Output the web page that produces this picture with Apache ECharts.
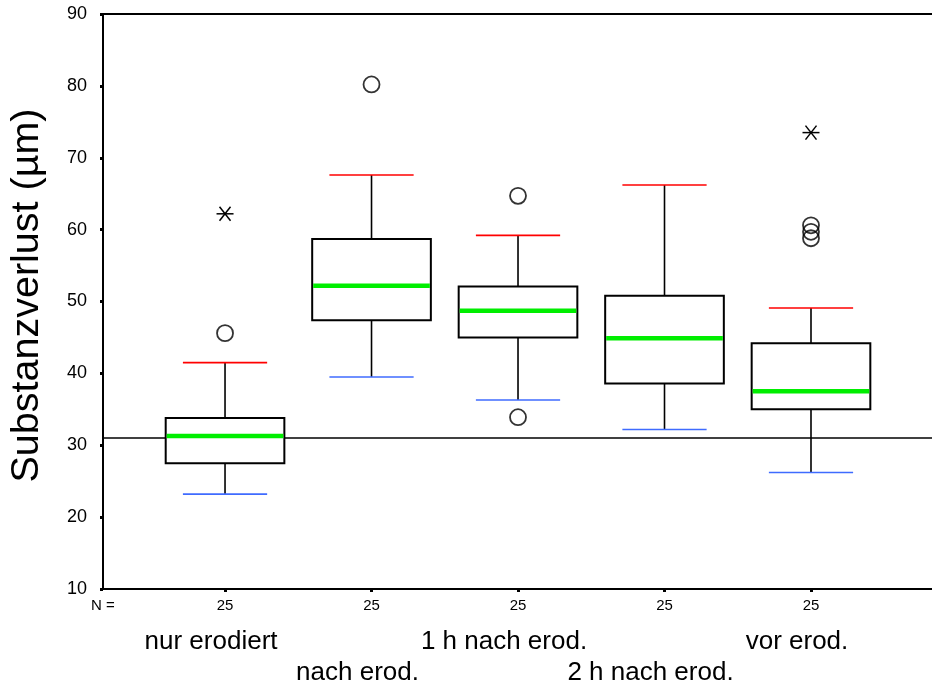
<!DOCTYPE html>
<html>
<head>
<meta charset="utf-8">
<script src="https://cdn.jsdelivr.net/npm/echarts@6/dist/echarts.min.js"></script>
<style>
html,body{margin:0;padding:0;background:#fff;}
#chart{width:932px;height:698px;}
</style>
</head>
<body>
<div id="chart"></div>
<script>
// ---- data ----
var categories = ['nur erodiert', 'nach erod.', '1 h nach erod.', '2 h nach erod.', 'vor erod.'];
var nValues = [25, 25, 25, 25, 25];
var whiskerLow = [23.2, 39.5, 36.3, 32.2, 26.2];
var q1 = [27.5, 47.4, 45.0, 38.6, 35.0];
var median = [31.3, 52.2, 48.7, 44.9, 37.5];
var q3 = [33.8, 58.7, 52.1, 50.8, 44.2];
var whiskerHigh = [41.5, 67.6, 59.2, 66.2, 49.1];
var outliers = [[0, 45.6], [1, 80.2], [2, 64.7], [2, 33.9], [4, 60.6], [4, 59.7], [4, 58.8]];
var extremes = [[0, 62.2], [4, 73.5]];
var referenceValue = 31.1;
var yTicks = [10, 20, 30, 40, 50, 60, 70, 80, 90];

// ---- layout constants ----
var X_MIN = -0.833, X_MAX = 4.826;
var BOX_W = 0.81, CAP_W = 0.575;
var FONT = "'Liberation Sans', Arial, Helvetica, sans-serif";

var boxData = categories.map(function (c, i) {
  return [i, whiskerLow[i], q1[i], median[i], q3[i], whiskerHigh[i]];
});
var catIdx = categories.map(function (c, i) { return i; });
var evenIdx = catIdx.filter(function (i) { return i % 2 === 0; });
var oddIdx = catIdx.filter(function (i) { return i % 2 === 1; });

function nameAxis(values, margin) {
  return {
    type: 'value', min: X_MIN, max: X_MAX, position: 'bottom',
    axisLine: {show: false},
    axisTick: {show: false},
    axisLabel: {
      show: true, customValues: values, margin: margin,
      showMinLabel: true, showMaxLabel: true, hideOverlap: false,
      color: '#000', fontFamily: FONT,
      formatter: function (v) { return '{c|' + categories[Math.round(v)] + '}'; },
      rich: {
        c: {fontSize: 26, lineHeight: 31, align: 'center', padding: [0, 28, 0, 0], color: '#000', fontFamily: FONT}
      }
    },
    splitLine: {show: false}
  };
}

var chart = echarts.init(document.getElementById('chart'), null, {renderer: 'canvas'});

var option = {
  animation: false,
  backgroundColor: '#ffffff',
  textStyle: {fontFamily: FONT, color: '#000'},
  grid: {left: 103, right: 0, top: 14, bottom: 109, containLabel: false, outerBoundsMode: 'none'},
  xAxis: [
    {
      type: 'value', min: X_MIN, max: X_MAX, position: 'bottom',
      axisLine: {show: true, onZero: false, lineStyle: {color: '#000', width: 2}},
      axisTick: {show: true, customValues: catIdx, length: 3, lineStyle: {color: '#000', width: 3}},
      axisLabel: {
        show: true, customValues: [X_MIN].concat(catIdx), margin: 9,
        showMinLabel: true, showMaxLabel: true, hideOverlap: false,
        fontSize: 15, color: '#000', fontFamily: FONT,
        formatter: function (v) { return v < -0.5 ? 'N =' : String(nValues[Math.round(v)]); }
      },
      splitLine: {show: false}
    },
    nameAxis(evenIdx, 37),
    nameAxis(oddIdx, 68),
    {
      type: 'value', min: X_MIN, max: X_MAX, position: 'top',
      axisLine: {show: true, onZero: false, lineStyle: {color: '#000', width: 2}},
      axisTick: {show: false},
      axisLabel: {show: false},
      splitLine: {show: false}
    }
  ],
  yAxis: {
    type: 'value', min: 10, max: 90, interval: 10,
    name: 'Substanzverlust (µm)', nameLocation: 'middle', nameGap: 56, nameRotate: 90,
    nameTextStyle: {fontSize: 39.5, color: '#000', fontFamily: FONT, padding: [0, 0, 0, 12]},
    axisLine: {show: true, onZero: false, lineStyle: {color: '#000', width: 2}},
    axisTick: {show: true, customValues: yTicks, length: 3, lineStyle: {color: '#000', width: 3}},
    axisLabel: {
      customValues: yTicks, fontSize: 18, color: '#000', margin: 16, fontFamily: FONT,
      showMinLabel: true, showMaxLabel: true
    },
    splitLine: {show: false}
  },
  series: [
    {
      type: 'scatter', name: 'outliers', xAxisIndex: 0,
      data: outliers, symbol: 'circle', symbolSize: 16, z: 3,
      itemStyle: {color: 'rgba(0,0,0,0)', borderColor: '#000', borderWidth: 1.8},
      emphasis: {disabled: true},
      markLine: {
        z: 1, silent: true, symbol: ['none', 'none'], label: {show: false},
        lineStyle: {color: '#000', width: 1.5, type: 'solid'},
        emphasis: {disabled: true},
        data: [{yAxis: referenceValue}]
      }
    },
    {
      type: 'custom', name: 'boxes', xAxisIndex: 0, z: 2,
      data: boxData,
      encode: {x: 0, y: [1, 2, 3, 4, 5]},
      renderItem: function (params, api) {
        var x = api.value(0);
        var lo = api.coord([x, api.value(1)]);
        var p1 = api.coord([x, api.value(2)]);
        var md = api.coord([x, api.value(3)]);
        var p3 = api.coord([x, api.value(4)]);
        var hi = api.coord([x, api.value(5)]);
        var bw = api.size([BOX_W, 0])[0];
        var cw = api.size([CAP_W, 0])[0];
        var cx = lo[0];
        var black = {stroke: '#000', lineWidth: 1.6};
        return {
          type: 'group',
          children: [
            {type: 'line', shape: {x1: cx, y1: hi[1], x2: cx, y2: p3[1]}, style: black},
            {type: 'line', shape: {x1: cx, y1: p1[1], x2: cx, y2: lo[1]}, style: black},
            {type: 'rect', shape: {x: cx - bw / 2, y: p3[1], width: bw, height: p1[1] - p3[1]},
              style: {fill: '#fff', stroke: '#000', lineWidth: 2}},
            {type: 'line', shape: {x1: cx - bw / 2 + 1, y1: md[1], x2: cx + bw / 2 - 1, y2: md[1]},
              style: {stroke: '#00ee00', lineWidth: 4.5}},
            {type: 'line', shape: {x1: cx - cw / 2, y1: hi[1], x2: cx + cw / 2, y2: hi[1]},
              style: {stroke: '#ff0000', lineWidth: 1.6}},
            {type: 'line', shape: {x1: cx - cw / 2, y1: lo[1], x2: cx + cw / 2, y2: lo[1]},
              style: {stroke: '#3f6bff', lineWidth: 1.6}}
          ]
        };
      }
    },
    {
      type: 'custom', name: 'extremes', xAxisIndex: 0, z: 3,
      data: extremes,
      encode: {x: 0, y: 1},
      renderItem: function (params, api) {
        var p = api.coord([api.value(0), api.value(1)]);
        var s = {stroke: '#000', lineWidth: 1.5};
        return {
          type: 'group',
          children: [
            {type: 'line', shape: {x1: p[0] - 8.5, y1: p[1], x2: p[0] + 8.5, y2: p[1]}, style: s},
            {type: 'line', shape: {x1: p[0] - 5.5, y1: p[1] - 7, x2: p[0] + 5.5, y2: p[1] + 7}, style: s},
            {type: 'line', shape: {x1: p[0] - 5.5, y1: p[1] + 7, x2: p[0] + 5.5, y2: p[1] - 7}, style: s}
          ]
        };
      }
    }
  ]
};

chart.setOption(option);
</script>
</body>
</html>
